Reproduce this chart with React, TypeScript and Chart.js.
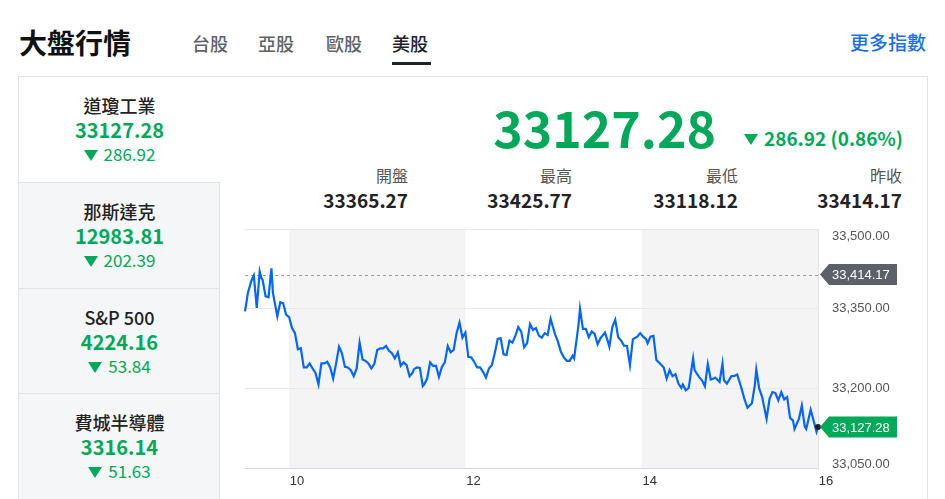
import React, { useEffect, useRef } from "react";
import { Chart, registerables } from "chart.js";

Chart.register(...registerables);

// ---------- data ----------
const TABS = ["台股", "亞股", "歐股", "美股"];
const ACTIVE_TAB = 3;

const INDEX_NAMES = ["道瓊工業", "那斯達克", "S&P 500", "費城半導體"];
const INDEX_VALUES = ["33127.28", "12983.81", "4224.16", "3316.14"];
const INDEX_CHANGES = ["286.92", "202.39", "53.84", "51.63"];

const MAIN_VALUE = "33127.28";
const MAIN_CHANGE = "286.92 (0.86%)";
const STAT_LABELS = ["開盤", "最高", "最低", "昨收"];
const STAT_VALUES = ["33365.27", "33425.77", "33118.12", "33414.17"];

const PREV_CLOSE = 33414.17;

// minutes after 09:30
const MINUTES = [
  0, 2, 4, 5, 6, 8, 10, 11, 12, 14, 16, 18, 19, 22, 24, 26, 28, 30, 32, 34,
  36, 38, 40, 42, 44, 46, 48, 50, 52, 54, 56, 58, 60, 62, 64, 66, 68, 70, 72, 74,
  76, 78, 80, 82, 84, 86, 88, 90, 92, 94, 96, 98,
  100, 102, 104, 106, 108, 110, 112, 114, 115, 117, 119, 121, 122, 124, 126, 128, 130, 132,
  134, 136, 138, 140, 142, 144, 146, 148, 150, 152, 154, 156, 158, 160, 162, 164, 166, 168,
  170, 172, 174, 176, 178, 180, 182, 184, 186, 188, 190, 192, 194, 196, 198,
  200, 202, 204, 206, 208, 211, 213, 215, 217, 219, 221, 223, 224, 227, 228, 230, 232, 234,
  236, 238, 240, 242, 245, 247, 248, 250, 252, 254, 256, 258, 260, 262, 264, 267, 269, 271,
  273, 274, 276, 278, 280, 282, 285, 287, 289, 291, 293,
  295, 297, 298, 300, 302, 305, 306, 309, 311, 313, 315, 317, 319, 320, 323, 325, 326, 328,
  331, 333, 335, 336, 338, 340, 342, 345, 347, 348, 350, 352, 355, 357, 359, 361, 363, 365,
  367, 369, 371, 373, 374, 377, 379, 381, 382, 385, 387, 389, 390,
];

const VALUES = [
  33345, 33379.8, 33399.4, 33407, 33412.7, 33351.3, 33420, 33408.9, 33403.7, 33373.4,
  33371.5, 33425.77, 33379.8, 33335.4, 33362, 33360.1, 33338.6, 33334.2, 33313.4, 33303.9,
  33273.5, 33275.4, 33239.3, 33239.3, 33246.9, 33237.4, 33229.1, 33207.6, 33246.9, 33246.9,
  33250, 33239.3, 33218.4, 33246.9, 33278.4, 33265.9, 33240.4, 33239.3, 33234.2, 33222.8,
  33237.4, 33286, 33254.5, 33251.8, 33246.9, 33237.4, 33245.6, 33272.2, 33275.4, 33275.4,
  33279.8, 33270.8,
  33266, 33256.4, 33267.8, 33242.4, 33248.8, 33243.7, 33222.8, 33229.1, 33236.1, 33239.3,
  33238.5, 33204.4, 33207.6, 33218.4, 33248.8, 33242.4, 33242.4, 33221.5, 33240.4, 33248.8,
  33279.7, 33267.8, 33272.2, 33303.9, 33324, 33295.5, 33305, 33259.4, 33258.3, 33249.9,
  33239.3, 33239.3, 33231, 33220.3, 33237.4, 33243.7, 33265.9, 33293, 33294.4, 33264,
  33262.7, 33289.8, 33286, 33298.7, 33315.3, 33306.9, 33277.3, 33284.9, 33320.9, 33310.1,
  33313.4,
  33299.3, 33295.5, 33303.9, 33300.6, 33331, 33302, 33287.9, 33268.9, 33258.3, 33251.8,
  33251.8, 33261.3, 33256.4, 33319.6, 33350, 33312, 33312, 33296.3, 33306.9, 33302.5,
  33283, 33294.4, 33305, 33287.9, 33278.4, 33315.3, 33329.1, 33296.3, 33289.8, 33280.3,
  33279.8, 33243.7, 33292.5, 33297.4, 33303.9, 33297.4, 33292.5, 33284.9, 33297.4, 33298.7,
  33253.2, 33248, 33239.3, 33218.4, 33234.2, 33222.8, 33226.6,
  33208.9, 33200.6, 33207, 33196.2, 33200.6, 33256.4, 33234.2, 33221.5, 33215.2, 33203.8,
  33245.6, 33216.5, 33218.4, 33220.3, 33212, 33246.9, 33215.2, 33208.9, 33222.8, 33223.4,
  33226, 33217.1, 33199.4, 33179.1, 33163.4, 33172.1, 33205.7, 33235.5, 33199.4, 33183.5,
  33142.5, 33180.4, 33193, 33191.1, 33177.2, 33193, 33179.1, 33183.5, 33144.4, 33139.2,
  33123.5, 33142.5, 33167.7, 33127.9, 33123.5, 33159.6, 33139.2, 33118.12, 33127.28,
];

const X_TICK_HOURS = [10, 12, 14, 16];
const Y_TICKS = [33050, 33200, 33350, 33500];
const BANDS_HOURS = [
  [10, 12],
  [14, 16],
];
const Y_MIN = 33050;
const Y_MAX = 33500;

// ---------- styles ----------
const GREEN = "#00a85a";
const FONT = '"Noto Sans CJK TC", "Noto Sans", sans-serif';
const AXIS_FONT = '"Liberation Sans", Arial, sans-serif';

const hourToMin = (h: number) => (h - 9.5) * 60;
const fmt = (v: number) =>
  v.toLocaleString("en-US", { minimumFractionDigits: 2, maximumFractionDigits: 2 });

function Tri({ w, h }: { w: number; h: number }) {
  return (
    <span
      style={{
        display: "inline-block",
        width: 0,
        height: 0,
        borderLeft: `${w / 2}px solid transparent`,
        borderRight: `${w / 2}px solid transparent`,
        borderTop: `${h}px solid ${GREEN}`,
        verticalAlign: "middle",
        marginRight: 6,
        position: "relative",
        top: -1,
      }}
    />
  );
}

const abs = (o: React.CSSProperties): React.CSSProperties => ({ position: "absolute", ...o });

export default function App() {
  const ref = useRef<HTMLCanvasElement>(null);

  useEffect(() => {
    const last = VALUES.length - 1;
    const topTick = Y_TICKS.length - 1;
    const bands = {
      id: "bands",
      beforeDraw(chart: any) {
        const { ctx, chartArea, scales } = chart;
        const x = scales.x;
        ctx.save();
        ctx.fillStyle = "#f4f4f4";
        for (const [a, b] of BANDS_HOURS) {
          const x1 = x.getPixelForValue(hourToMin(a));
          const x2 = x.getPixelForValue(hourToMin(b));
          ctx.fillRect(x1, chartArea.top, x2 - x1, chartArea.bottom - chartArea.top);
        }
        ctx.restore();
      },
    };
    const refLine = {
      id: "refLine",
      beforeDatasetsDraw(chart: any) {
        const { ctx, chartArea, scales } = chart;
        const py = Math.round(scales.y.getPixelForValue(PREV_CLOSE)) + 0.5;
        ctx.save();
        ctx.strokeStyle = "#a0a0a0";
        ctx.lineWidth = 1;
        ctx.setLineDash([3, 3]);
        ctx.beginPath();
        ctx.moveTo(chartArea.left, py);
        ctx.lineTo(chartArea.right, py);
        ctx.stroke();
        ctx.restore();
      },
    };
    const tags = {
      id: "tags",
      afterDraw(chart: any) {
        const { ctx, chartArea, scales } = chart;
        const draw = (v: number, color: string) => {
          const py = scales.y.getPixelForValue(v);
          const x0 = chartArea.right + 2;
          const h = 21;
          const w = 77;
          const tip = 9;
          ctx.save();
          ctx.beginPath();
          ctx.moveTo(x0, py);
          ctx.lineTo(x0 + tip, py - h / 2);
          ctx.lineTo(x0 + w, py - h / 2);
          ctx.lineTo(x0 + w, py + h / 2);
          ctx.lineTo(x0 + tip, py + h / 2);
          ctx.closePath();
          ctx.fillStyle = color;
          ctx.fill();
          ctx.fillStyle = "#fff";
          ctx.font = `13px ${AXIS_FONT}`;
          ctx.textBaseline = "middle";
          ctx.textAlign = "left";
          ctx.fillText(fmt(v), x0 + 12, py + 1);
          ctx.restore();
        };
        draw(PREV_CLOSE, "#5b6167");
        draw(VALUES[last], GREEN);
      },
    };

    const chart = new Chart(ref.current as HTMLCanvasElement, {
      type: "line",
      data: {
        datasets: [
          {
            data: MINUTES.map((m, i) => ({ x: m, y: VALUES[i] })),
            borderColor: "#0066ff",
            borderWidth: 2.2,
            tension: 0,
            fill: false,
            clip: false as any,
            pointRadius: (c: any) => (c.dataIndex === last ? 3 : 0),
            pointHoverRadius: 0,
            pointBackgroundColor: "#222",
            pointBorderWidth: 0,
          } as any,
        ],
      },
      options: {
        animation: false,
        responsive: false,
        events: [],
        layout: { padding: { left: 8, top: 7, right: 0, bottom: 0 } },
        plugins: { legend: { display: false }, tooltip: { enabled: false } },
        scales: {
          x: {
            type: "linear",
            min: 0,
            max: hourToMin(16),
            afterBuildTicks: (s: any) => {
              s.ticks = X_TICK_HOURS.map((h) => ({ value: hourToMin(h) }));
            },
            afterFit: (s: any) => {
              s.height = 31;
              s.paddingLeft = 0;
              s.paddingRight = 0;
            },
            ticks: {
              autoSkip: false,
              maxRotation: 0,
              labelOffset: 8,
              padding: 6,
              color: "#333",
              font: { size: 13, family: AXIS_FONT },
              callback: (v: any) => String(9.5 + Number(v) / 60),
            },
            grid: { display: false, drawTicks: false },
            border: { display: true, color: "#d3d8e0", width: 1 },
          },
          y: {
            type: "linear",
            position: "right",
            min: Y_MIN,
            max: Y_MAX,
            afterBuildTicks: (s: any) => {
              s.ticks = Y_TICKS.map((v) => ({ value: v }));
            },
            afterFit: (s: any) => {
              s.width = 108;
              s.paddingTop = 0;
              s.paddingBottom = 0;
            },
            ticks: {
              padding: 14,
              color: "#555",
              font: (c: any) => ({
                size: 13,
                family: AXIS_FONT,
                lineHeight: c.index === topTick ? "14px" : c.index === 0 ? "8px" : 1.2,
              }),
              // edge labels sit inside the plot, as in the original
              callback: (v: any, i: number) =>
                i === topTick ? ["", fmt(Number(v))] : i === 0 ? [fmt(Number(v)), ""] : fmt(Number(v)),
            },
            grid: { color: "#e8e8e8", drawTicks: false },
            border: { display: true, color: "#e3e3e3" },
          },
        },
      } as any,
      plugins: [bands, refLine, tags],
    });
    return () => chart.destroy();
  }, []);

  const itemTops = [76, 182, 288, 393];
  const statRights = [408, 572, 738, 902];
  const tabLefts = [192, 258, 326, 392];

  return (
    <div
      style={{
        position: "fixed",
        left: 0,
        top: 0,
        width: 945,
        height: 499,
        overflow: "hidden",
        background: "#fff",
        fontFamily: FONT,
      }}
    >
      {/* header */}
      <div style={abs({ left: 19, top: 24, lineHeight: "36px", fontSize: 28, fontWeight: 700, color: "#111" })}>
        大盤行情
      </div>
      {TABS.map((t, i) => (
        <div
          key={t}
          style={abs({
            left: tabLefts[i],
            top: 31,
            lineHeight: "24px",
            fontSize: 18,
            fontWeight: 500,
            color: i === ACTIVE_TAB ? "#1f2328" : "#5f6368",
          })}
        >
          {t}
        </div>
      ))}
      <div style={abs({ left: tabLefts[ACTIVE_TAB], top: 62, width: 39, height: 3, background: "#1f2328" })} />
      <div style={abs({ right: 19, top: 29, lineHeight: "26px", fontSize: 19, fontWeight: 500, color: "#1a6fe8" })}>
        更多指數
      </div>

      {/* card */}
      <div
        style={abs({
          left: 18,
          top: 76,
          width: 910,
          height: 440,
          border: "1px solid #e0e3e7",
          boxSizing: "border-box",
        })}
      />

      {/* sidebar */}
      {INDEX_NAMES.map((n, i) => {
        const T = itemTops[i];
        const active = i === 0;
        return (
          <React.Fragment key={n}>
            <div
              style={abs({
                left: 19,
                top: T + (i === 0 ? 1 : 0),
                width: 201,
                height: 106 - (i === 0 ? 1 : 0),
                background: active ? "#fff" : "#f5f6f8",
                borderTop: i === 0 ? "none" : "1px solid #e0e3e7",
                borderRight: active ? "none" : "1px solid #e0e3e7",
                boxSizing: "border-box",
              })}
            />
            <div
              style={abs({
                left: 19,
                width: 201,
                textAlign: "center",
                top: T + 29 - 12,
                lineHeight: "24px",
                fontSize: 18,
                fontWeight: 500,
                color: "#222",
              })}
            >
              {n}
            </div>
            <div
              style={abs({
                left: 19,
                width: 201,
                textAlign: "center",
                top: T + 54 - 13,
                lineHeight: "26px",
                fontSize: 20,
                fontWeight: 700,
                color: GREEN,
              })}
            >
              {INDEX_VALUES[i]}
            </div>
            <div
              style={abs({
                left: 19,
                width: 201,
                textAlign: "center",
                top: T + 78 - 12,
                lineHeight: "24px",
                fontSize: 17,
                color: GREEN,
              })}
            >
              <Tri w={14} h={11} />
              {INDEX_CHANGES[i]}
            </div>
          </React.Fragment>
        );
      })}

      {/* main header */}
      <div
        style={abs({
          right: 945 - 716,
          top: 97,
          lineHeight: "58px",
          fontSize: 50,
          fontWeight: 700,
          color: GREEN,
        })}
      >
        {MAIN_VALUE}
      </div>
      <div
        style={abs({
          right: 945 - 903,
          top: 126,
          lineHeight: "24px",
          fontSize: 19,
          fontWeight: 700,
          color: GREEN,
        })}
      >
        <Tri w={15} h={11} />
        {MAIN_CHANGE}
      </div>
      {STAT_LABELS.map((l, i) => (
        <React.Fragment key={l}>
          <div
            style={abs({
              right: 945 - statRights[i],
              top: 164,
              lineHeight: "22px",
              fontSize: 16,
              color: "#555",
            })}
          >
            {l}
          </div>
          <div
            style={abs({
              right: 945 - statRights[i],
              top: 188,
              lineHeight: "24px",
              fontSize: 19,
              fontWeight: 700,
              color: "#222",
            })}
          >
            {STAT_VALUES[i]}
          </div>
        </React.Fragment>
      ))}

      {/* chart */}
      <canvas
        ref={ref}
        width={689}
        height={277}
        style={abs({ left: 237, top: 222, width: 689, height: 277 })}
      />
    </div>
  );
}
